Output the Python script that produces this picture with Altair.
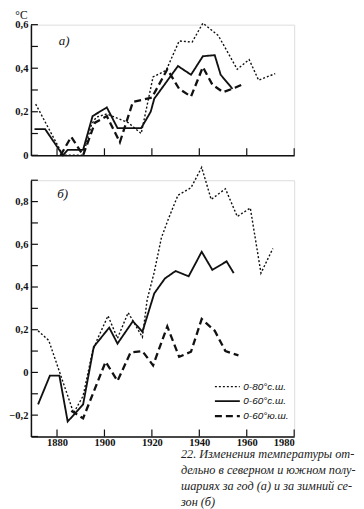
import altair as alt
import pandas as pd

SERIES = ["0-80°с.ш.", "0-60°с.ш.", "0-60°ю.ш."]
X_TICKS = [1880, 1900, 1920, 1940, 1960, 1980]

# Panel a (year)
a_n80_years = [1871, 1882.5, 1891, 1894.5, 1896.5, 1901, 1910, 1915.5, 1920.5, 1926, 1931.5, 1937, 1941.5, 1948, 1956, 1961, 1965, 1972]
a_n80_vals = [0.235, 0.0, 0.0, 0.14, 0.175, 0.19, 0.15, 0.10, 0.36, 0.39, 0.525, 0.52, 0.607, 0.55, 0.395, 0.44, 0.345, 0.375]
a_n60_years = [1870.5, 1875, 1882.5, 1884.5, 1891, 1895, 1901, 1905.5, 1915.5, 1919.5, 1921, 1931, 1936.5, 1941.5, 1946.5, 1949, 1954]
a_n60_vals = [0.12, 0.12, 0.0, 0.025, 0.025, 0.18, 0.22, 0.125, 0.125, 0.2, 0.26, 0.41, 0.37, 0.455, 0.46, 0.37, 0.305]
a_s60_years = [1881.5, 1886, 1891, 1896, 1901, 1906.5, 1912, 1920, 1926.5, 1931.5, 1936.5, 1941.5, 1945.5, 1950, 1955, 1959]
a_s60_vals = [0.0, 0.085, 0.0, 0.15, 0.18, 0.06, 0.245, 0.265, 0.395, 0.305, 0.27, 0.405, 0.325, 0.29, 0.31, 0.33]

# Panel b (winter season)
b_n80_years = [1872, 1876.5, 1887, 1891, 1895, 1897, 1901.5, 1905.5, 1910, 1916, 1918, 1921, 1924, 1927, 1931, 1936.5, 1941, 1945, 1951, 1956, 1961.5, 1966, 1971]
b_n80_vals = [0.195, 0.15, -0.19, -0.11, 0.10, 0.155, 0.265, 0.16, 0.28, 0.165, 0.34, 0.47, 0.63, 0.72, 0.83, 0.865, 0.96, 0.81, 0.86, 0.73, 0.77, 0.465, 0.58]
b_n60_years = [1872, 1877, 1881, 1884.5, 1891, 1895.5, 1902, 1905.5, 1912, 1916, 1921, 1925.5, 1930, 1935.5, 1941, 1945.5, 1951.5, 1954.5]
b_n60_vals = [-0.15, -0.015, -0.015, -0.23, -0.15, 0.12, 0.21, 0.135, 0.24, 0.19, 0.37, 0.44, 0.475, 0.45, 0.565, 0.48, 0.52, 0.465]
b_s60_years = [1886, 1891, 1900.5, 1905.5, 1911, 1916, 1920.5, 1926.5, 1931.5, 1936.5, 1941, 1946.5, 1951, 1956.5]
b_s60_vals = [-0.18, -0.215, 0.05, -0.04, 0.093, 0.10, 0.033, 0.215, 0.073, 0.097, 0.25, 0.195, 0.10, 0.08]

A_YTICKS = [0, 0.1, 0.2, 0.3, 0.4, 0.5, 0.6]
A_YLABELS = [0, 0.2, 0.4, 0.6]
B_YTICKS = [-0.3, -0.2, -0.1, 0, 0.1, 0.2, 0.3, 0.4, 0.5, 0.6, 0.7, 0.8, 0.9]
B_YLABELS = [-0.2, 0, 0.2, 0.4, 0.6, 0.8]

CAPTION = [
    "22. Изменения температуры от-",
    "дельно в северном и южном полу-",
    "шариях за год (а) и за зимний се-",
    "зон (б)",
]


def frame(groups):
    rows = []
    for name, years, vals in groups:
        for y, v in zip(years, vals):
            rows.append({"series": name, "year": y, "value": v})
    return pd.DataFrame(rows)


df_a = frame([(SERIES[0], a_n80_years, a_n80_vals), (SERIES[1], a_n60_years, a_n60_vals), (SERIES[2], a_s60_years, a_s60_vals)])
df_b = frame([(SERIES[0], b_n80_years, b_n80_vals), (SERIES[1], b_n60_years, b_n60_vals), (SERIES[2], b_s60_years, b_s60_vals)])

INK = "#111"
SERIF = "'Liberation Serif', 'DejaVu Serif', serif"
W = 264
LABEL_EXPR = "datum.value == 0 ? '0' : replace(format(datum.value, '.1f'), '.', ',')"

dash_scale = alt.Scale(domain=SERIES, range=[[2, 2], [1, 0], [7, 4]])
width_scale = alt.Scale(domain=SERIES, range=[1.4, 2.3, 1.7])


def panel(df, ydom, yticks, ylabels, H, label, label_year, label_val, show_xlabels, legend, ytitle):
    xs = alt.Scale(domain=[1869, 1980], nice=False, zero=False)
    ys = alt.Scale(domain=ydom, nice=False, zero=False)
    xaxis = alt.Axis(values=X_TICKS, labels=show_xlabels, ticks=False, grid=False, title=None,
                     domainColor=INK, domainWidth=1.5, labelFont=SERIF,
                     labelFontWeight="bold", labelFontSize=10.5, labelColor=INK, labelPadding=1,
                     format="d")
    yaxis_kw = dict(values=ylabels, labelExpr=LABEL_EXPR, ticks=False, grid=False,
                    domainColor=INK, domainWidth=1.5, labelFont=SERIF,
                    labelFontWeight="bold", labelFontSize=10.5, labelColor=INK, labelPadding=3)
    if ytitle:
        yaxis = alt.Axis(title=ytitle, titleAngle=0, titleX=-10, titleY=-6.5, titleAlign="center",
                         titleBaseline="alphabetic", titleFont=SERIF, titleFontWeight="normal",
                         titleFontSize=11.5, titleColor=INK, **yaxis_kw)
    else:
        yaxis = alt.Axis(title=None, **yaxis_kw)

    lines = alt.Chart(df).mark_line(color=INK, strokeCap="butt", strokeJoin="miter").encode(
        x=alt.X("year:Q", scale=xs, axis=xaxis),
        y=alt.Y("value:Q", scale=ys, axis=yaxis),
        strokeDash=alt.StrokeDash("series:N", scale=dash_scale, legend=legend),
        strokeWidth=alt.StrokeWidth("series:N", scale=width_scale, legend=legend),
        detail="series:N",
        order="year:Q",
    )
    xt = alt.Chart(pd.DataFrame({"year": X_TICKS})).mark_rule(color=INK, strokeWidth=1.2).encode(
        x=alt.X("year:Q", scale=xs), y=alt.value(H), y2=alt.value(H - 7))
    yt = alt.Chart(pd.DataFrame({"value": yticks})).mark_rule(color=INK, strokeWidth=1.2).encode(
        y=alt.Y("value:Q", scale=ys), x=alt.value(0), x2=alt.value(7))
    txt = alt.Chart().mark_text(text=label, font=SERIF, fontStyle="italic",
                                fontSize=13, color=INK).encode(
        x=alt.datum(label_year), y=alt.datum(label_val))
    return alt.layer(lines, xt, yt, txt).properties(width=W, height=H)


legend_b = alt.Legend(orient="none", legendX=200, legendY=201, title=None,
                      symbolType="M-4.4,0H0.6", symbolSize=100, symbolStrokeColor=INK,
                      labelFont="'Liberation Sans', sans-serif", labelFontStyle="italic",
                      labelFontSize=10, labelColor=INK, labelOffset=0,
                      rowPadding=3.5, padding=0)

pa = panel(df_a, [0, 0.6], A_YTICKS, A_YLABELS, 131, "а)", 1883, 0.527, False, None, "°C")
pb = panel(df_b, [-0.3, 0.9], B_YTICKS, B_YLABELS, 257, "б)", 1882.4, 0.834, True, legend_b, None)

chart = alt.vconcat(pa, pb, spacing=25, bounds="flush").resolve_scale(
    strokeDash="independent", strokeWidth="independent"
).resolve_legend(strokeDash="independent", strokeWidth="independent").properties(
    padding={"left": 0, "top": 0, "right": 0, "bottom": 0},
    title=alt.TitleParams(text=CAPTION, orient="bottom", anchor="start", dx=173, offset=0,
                          font=SERIF, fontStyle="italic", fontWeight="normal",
                          fontSize=12.3, lineHeight=15.8, color="#222"),
).configure_view(stroke=None).configure(background="white")

chart.save("out.html", embed_options={"renderer": "svg", "actions": False})
